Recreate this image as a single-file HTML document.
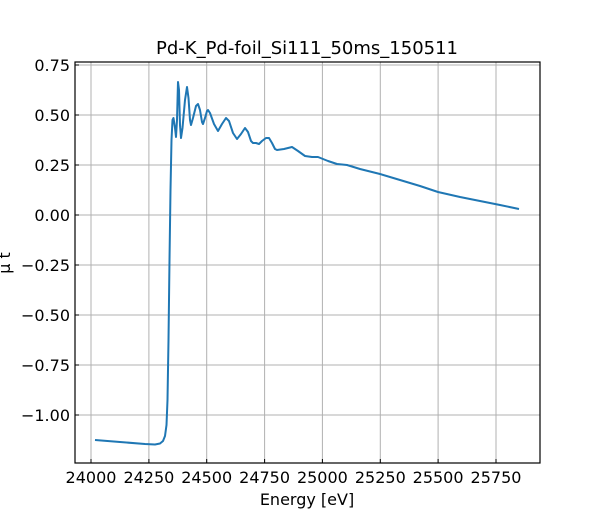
<!DOCTYPE html>
<html><head><meta charset="utf-8"><style>body{margin:0;background:#fff}</style></head><body>
<svg width="600" height="520" xmlns="http://www.w3.org/2000/svg" font-family="DejaVu Sans, Liberation Sans, sans-serif">
<rect width="600" height="520" fill="#fff"/>
<g stroke="#b0b0b0" stroke-width="1">
<line x1="91" y1="62" x2="91" y2="463"/><line x1="148.9" y1="62" x2="148.9" y2="463"/><line x1="206.7" y1="62" x2="206.7" y2="463"/><line x1="264.6" y1="62" x2="264.6" y2="463"/><line x1="322.4" y1="62" x2="322.4" y2="463"/><line x1="380.3" y1="62" x2="380.3" y2="463"/><line x1="438.1" y1="62" x2="438.1" y2="463"/><line x1="496" y1="62" x2="496" y2="463"/>
<line x1="75" y1="65" x2="540" y2="65"/><line x1="75" y1="115" x2="540" y2="115"/><line x1="75" y1="165" x2="540" y2="165"/><line x1="75" y1="215" x2="540" y2="215"/><line x1="75" y1="265" x2="540" y2="265"/><line x1="75" y1="315" x2="540" y2="315"/><line x1="75" y1="365" x2="540" y2="365"/><line x1="75" y1="415" x2="540" y2="415"/>
</g>
<polyline fill="none" stroke="#1f77b4" stroke-width="2" stroke-linejoin="round" points="95,440 120,442 145,444 155,444.5 160,443.5 163,441 165,436 166.5,425 167.5,400 168.5,340 169.5,260 170.5,190 171.5,140 172.5,120 173.5,118 175,128 176,137 177,120 178,82 179,90 180,125 181,138 182.5,128 185,100 187,87 188.5,98 190,120 191,125 193,118 196,106 198,104 200,110 202,122 203,124 205,118 207,111 208,110 210,113 214,124 218,131 222,124 226,118 229,121 233,133 237,139 241,134 245,128 248,132 251,141 253,143 256,143 259,144 262,141 266,138 269,138 272,143 275,149 277,150 284,149 292,147 298,151 305,156 312,157 318,157 328,161 337,164 347,165 360,169 380,174 400,180 420,186 438,192 460,197 480,201 500,205 519,209"/>
<rect x="75" y="62" width="465" height="401" fill="none" stroke="#000" stroke-width="1.2"/>
<g stroke="#000" stroke-width="1">
<line x1="91" y1="463" x2="91" y2="459"/><line x1="148.9" y1="463" x2="148.9" y2="459"/><line x1="206.7" y1="463" x2="206.7" y2="459"/><line x1="264.6" y1="463" x2="264.6" y2="459"/><line x1="322.4" y1="463" x2="322.4" y2="459"/><line x1="380.3" y1="463" x2="380.3" y2="459"/><line x1="438.1" y1="463" x2="438.1" y2="459"/><line x1="496" y1="463" x2="496" y2="459"/>
<line x1="75" y1="65" x2="79" y2="65"/><line x1="75" y1="115" x2="79" y2="115"/><line x1="75" y1="165" x2="79" y2="165"/><line x1="75" y1="215" x2="79" y2="215"/><line x1="75" y1="265" x2="79" y2="265"/><line x1="75" y1="315" x2="79" y2="315"/><line x1="75" y1="365" x2="79" y2="365"/><line x1="75" y1="415" x2="79" y2="415"/>
</g>
<g font-size="16" fill="#000" text-anchor="middle">
<text x="91" y="483">24000</text><text x="148.9" y="483">24250</text><text x="206.7" y="483">24500</text><text x="264.6" y="483">24750</text><text x="322.4" y="483">25000</text><text x="380.3" y="483">25250</text><text x="438.1" y="483">25500</text><text x="496" y="483">25750</text>
<text x="307" y="505">Energy [eV]</text>
<text x="307" y="54" font-size="18">Pd-K_Pd-foil_Si111_50ms_150511</text>
</g>
<g font-size="16" fill="#000" text-anchor="end">
<text x="70" y="71">0.75</text><text x="70" y="121">0.50</text><text x="70" y="171">0.25</text><text x="70" y="221">0.00</text><text x="70" y="271">−0.25</text><text x="70" y="321">−0.50</text><text x="70" y="371">−0.75</text><text x="70" y="421">−1.00</text>
</g>
<text x="10" y="263" font-size="16" text-anchor="middle" transform="rotate(-90 10 263)">μ t</text>
</svg>
</body></html>
